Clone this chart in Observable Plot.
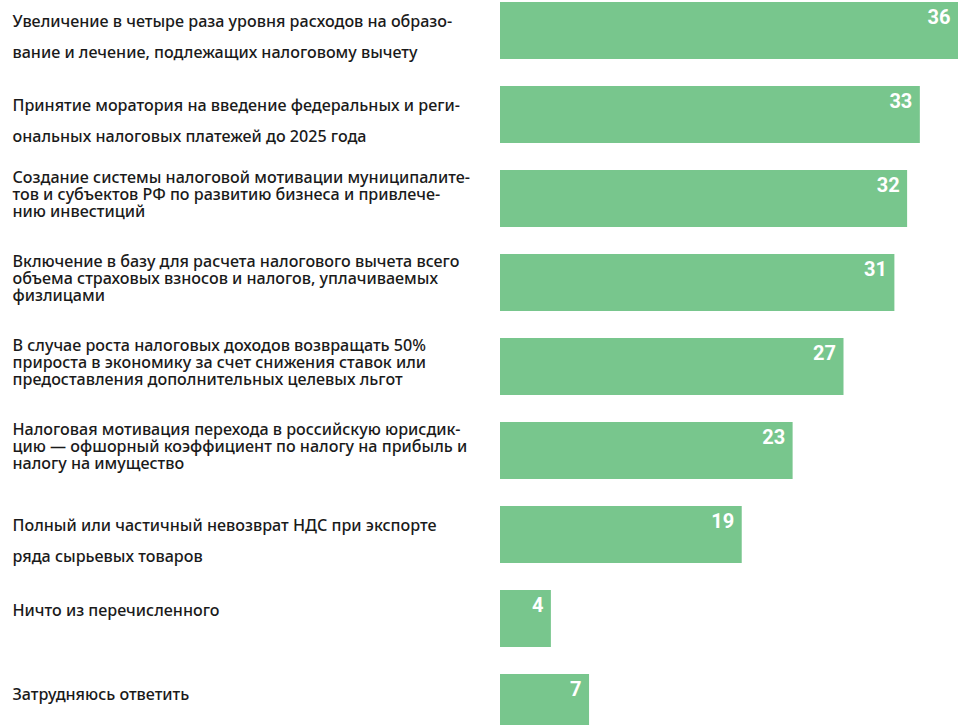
<!DOCTYPE html>
<html>
<head>
<meta charset="utf-8">
<script src="https://cdn.jsdelivr.net/npm/d3@7"></script>
<script src="https://cdn.jsdelivr.net/npm/@observablehq/plot@0.6"></script>
<style>
  html, body { margin: 0; padding: 0; background: #fff; overflow: hidden; }
  #chart svg { display: block; }
</style>
</head>
<body>
<div id="chart"></div>
<script>
const labels = [
  "Увеличение в четыре раза уровня расходов на образо-\nвание и лечение, подлежащих налоговому вычету",
  "Принятие моратория на введение федеральных и реги-\nональных налоговых платежей до 2025 года",
  "Создание системы налоговой мотивации муниципалите-\nтов и субъектов РФ по развитию бизнеса и привлече-\nнию инвестиций",
  "Включение в базу для расчета налогового вычета всего\nобъема страховых взносов и налогов, уплачиваемых\nфизлицами",
  "В случае роста налоговых доходов возвращать 50%\nприроста в экономику за счет снижения ставок или\nпредоставления дополнительных целевых льгот",
  "Налоговая мотивация перехода в российскую юрисдик-\nцию — офшорный коэффициент по налогу на прибыль и\nналогу на имущество",
  "Полный или частичный невозврат НДС при экспорте\nряда сырьевых товаров",
  "Ничто из перечисленного",
  "Затрудняюсь ответить"
];
const values = [36, 33, 32, 31, 27, 23, 19, 4, 7];
// label layout style: "wide" = two lines spread over bar, "tight" = three dense lines, "single"
const layouts = ["wide", "wide", "tight", "tight", "tight", "tight", "wide", "single", "single"];

const data = labels.map((label, i) => ({label, value: values[i], layout: layouts[i]}));

const font = "'Noto Sans', sans-serif";
const textBase = {
  y: "label",
  text: "label",
  frameAnchor: "left",
  textAnchor: "start",
  lineAnchor: "top",
  dx: 12,
  fontSize: 16.1,
  fontWeight: 500,
  fontFamily: font,
  fill: "#1a1a1a"
};

const chart = Plot.plot({
  width: 977,
  height: 725,
  marginLeft: 0,
  marginRight: 0,
  marginTop: 0,
  marginBottom: 0,
  style: {background: "#fff", overflow: "visible"},
  x: {domain: [0, 36], range: [500, 958], axis: null},
  y: {type: "band", domain: labels, range: [2, 731], paddingInner: 27 / 84, paddingOuter: 0, axis: null},
  marks: [
    Plot.barX(data, {x1: 0, x2: "value", y: "label", fill: "#78c68d"}),
    Plot.text(data.filter(d => d.layout === "wide"), {...textBase, lineHeight: 1.93, dy: -26}),
    Plot.text(data.filter(d => d.layout === "tight"), {...textBase, lineHeight: 1.06, dy: -28}),
    Plot.text(data.filter(d => d.layout === "single"), {...textBase, dy: -14}),
    Plot.text(data, {
      x: "value", y: "label", text: d => String(d.value),
      textAnchor: "end", dx: -8, dy: -13,
      fill: "#fff", fontSize: 20, fontWeight: "bold", fontFamily: "Roboto, sans-serif"
    })
  ]
});
document.getElementById("chart").appendChild(chart);
</script>
</body>
</html>
